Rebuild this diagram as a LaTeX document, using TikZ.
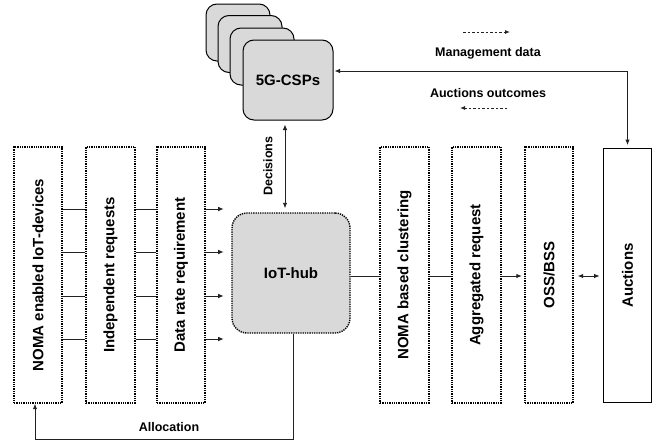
\documentclass[tikz,border=0pt]{standalone}
\usepackage{fontspec}
\usepackage{graphicx}
\setmainfont{Liberation Sans}
\usetikzlibrary{arrows.meta,calc}
\definecolor{boxgrey}{HTML}{D9D9D9}
\definecolor{linec}{HTML}{222222}
\tikzset{
  dotbox/.style={draw=black, line width=1.4pt, dash pattern=on 1.3pt off 1pt, minimum width=48pt, minimum height=256pt, inner sep=0pt, font=\bfseries\fontsize{15}{18}\selectfont},
  cspbox/.style={draw=black, line width=1pt, fill=boxgrey, rounded corners=11pt, inner sep=0pt},
  conn/.style={draw=linec, line width=0.9pt},
  arr/.style={conn, -{Latex[length=5.5pt,width=4.5pt]}},
  darr/.style={conn, {Latex[length=5.5pt,width=4.5pt]}-{Latex[length=5.5pt,width=4.5pt]}},
  lbl/.style={font=\bfseries\fontsize{12.5}{15}\selectfont, inner sep=0pt},
}
\begin{document}
\begin{tikzpicture}[x=1pt,y=-1pt]
\useasboundingbox (0,0) rectangle (660,442);

% 5G-CSPs stack
\node[cspbox, minimum width=64pt, minimum height=57pt] (b1) at (238,32.5) {};
\node[cspbox, minimum width=64pt, minimum height=57pt] (b2) at (250,44) {};
\node[cspbox, minimum width=64pt, minimum height=57pt] (b3) at (262,56.5) {};
\node[cspbox, minimum width=90pt, minimum height=80pt, font=\bfseries\fontsize{15}{18}\selectfont] (csp) at (288,80) {5G-CSPs};

% left boxes
\node[dotbox] (dev) at (38,275) {\rotatebox{90}{NOMA enabled IoT-devices}};
\node[dotbox, minimum width=49pt] (ind) at (110.5,275) {\rotatebox{90}{Independent requests}};
\node[dotbox] (rate) at (181,275) {\rotatebox{90}{Data rate requirement}};

% hub
\node[dotbox, fill=boxgrey, rounded corners=15pt, minimum width=118pt, minimum height=120pt] (hub) at (291,273) {IoT-hub};

% right boxes
\node[dotbox, minimum width=49pt] (clus) at (404.5,275) {\rotatebox{90}{NOMA based clustering}};
\node[dotbox, minimum width=49pt] (agg) at (476.5,275) {\rotatebox{90}{Aggregated request}};
\node[dotbox] (oss) at (549,275) {\rotatebox{90}{OSS/BSS}};
\node[draw=black, line width=1.8pt, minimum width=48pt, minimum height=254pt, inner sep=0pt, font=\bfseries\fontsize{15}{18}\selectfont] (auc) at (627.5,275.5) {\rotatebox{90}{Auctions}};

% left connectors
\foreach \y in {209,252,296,339} {
  \draw[conn] (dev.east |- 0,\y) -- (ind.west |- 0,\y);
  \draw[conn] (ind.east |- 0,\y) -- (rate.west |- 0,\y);
  \draw[arr] (rate.east |- 0,\y) -- ++(18,0);
}

% right connectors
\draw[conn] (hub.east |- 0,276) -- (clus.west |- 0,276);
\draw[conn] (clus.east |- 0,276) -- (agg.west |- 0,276);
\draw[arr, shorten >=2.5pt] (agg.east |- 0,276) -- (oss.west |- 0,276);
\draw[darr, shorten >=3pt, shorten <=4pt] (oss.east |- 0,276) -- (auc.west |- 0,276);

% decisions
\draw[darr, shorten >=4pt, shorten <=4pt] (csp.south -| 285,0) -- (hub.north -| 285,0);
\node[lbl, rotate=90] (dec) at (268,166) {Decisions};

% CSP <-> Auctions
\coordinate (cspin) at (csp.east |- 0,71);
\draw[darr, shorten <=1pt, shorten >=2.5pt] (cspin) -| (auc.north);

% allocation
\coordinate (abot) at (0,439);
\draw[arr, shorten >=0pt] ([xshift=2pt]hub.south) -- ([xshift=2pt]hub.south |- abot) -| ([xshift=-3pt]dev.south);
\node[lbl] (alloc) at (169,427) {Allocation};

% legend
\coordinate (la1) at (463,32);
\coordinate (la2) at (510,32);
\draw[conn, dashed, dash pattern=on 2.5pt off 2pt, -{Latex[length=5pt,width=4pt]}] (la1) -- (la2);
\node[lbl] (mgmt) at (488,53) {Management data};
\node[lbl] (aout) at (488,93) {Auctions outcomes};
\coordinate (lb1) at (507,108);
\coordinate (lb2) at (460,108);
\draw[conn, dashed, dash pattern=on 2.5pt off 2pt, -{Latex[length=5pt,width=4pt]}] (lb1) -- (lb2);
\end{tikzpicture}
\end{document}
